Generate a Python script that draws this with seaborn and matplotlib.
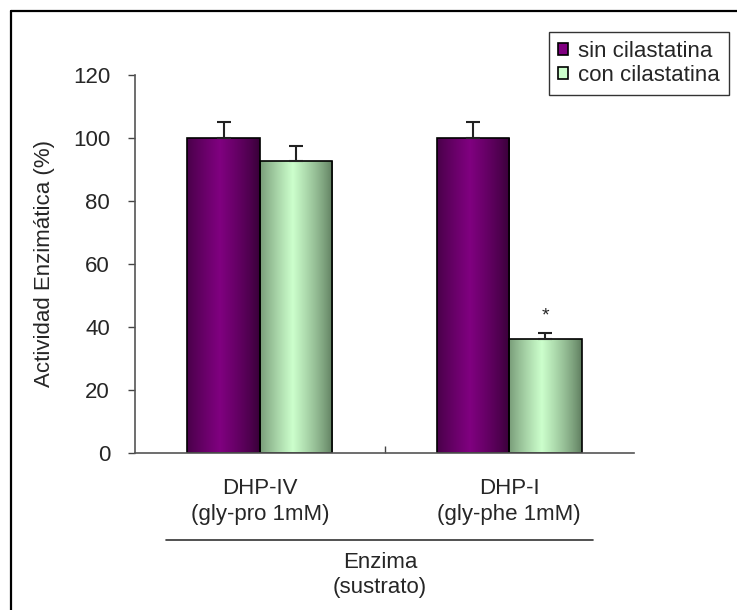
import numpy as np
import pandas as pd
import matplotlib
matplotlib.use("Agg")
import matplotlib.pyplot as plt
from matplotlib.lines import Line2D
from matplotlib.patches import Patch
from matplotlib.colors import to_rgb
import seaborn as sns

# Data
enzimas = ["DHP-IV\n(gly-pro 1mM)", "DHP-I\n(gly-phe 1mM)"]
condiciones = ["sin cilastatina", "con cilastatina"]
sin_cil = [100.0, 100.0]
con_cil = [92.7, 36.1]
sin_cil_err = [5.0, 5.0]
con_cil_err = [4.8, 1.9]
y_ticks = [0, 20, 40, 60, 80, 100, 120]

df = pd.DataFrame({
    "enzima": enzimas * 2,
    "condicion": [condiciones[0]] * 2 + [condiciones[1]] * 2,
    "actividad": sin_cil + con_cil,
    "error": sin_cil_err + con_cil_err,
})

sns.set_style("white")
plt.rcParams["font.family"] = ["Liberation Sans", "DejaVu Sans"]

palette = {"sin cilastatina": "#800080", "con cilastatina": "#ccffcc"}
dark_edge = {"sin cilastatina": "#360036", "con cilastatina": "#5c7a5c"}

FS = 16
W, H = 737, 610

fig = plt.figure(figsize=(W / 100, H / 100), dpi=100)
ax = fig.add_axes([0.1832, 0.2574, 0.6771, 0.6197])

sns.barplot(data=df, x="enzima", y="actividad", hue="condicion",
            hue_order=condiciones, order=enzimas, palette=palette,
            width=0.58, gap=0, errorbar=None, edgecolor="black",
            linewidth=1.2, legend=False, ax=ax)

# Shaded (cylinder-like) fill for each bar, clipped to the bar shape
bars = [p for p in ax.patches if p.get_height() > 0]
hue_per_bar = [c for c in condiciones for _ in enzimas]
t = np.linspace(0, 1, 256)
profile = np.clip(1 - np.abs(t - 0.45) / 0.55, 0, 1) ** 0.8
for bar, cond in zip(bars, hue_per_bar):
    bright = np.array(to_rgb(palette[cond]))
    dark = np.array(to_rgb(dark_edge[cond]))
    grad = dark[None, :] + (bright - dark)[None, :] * profile[:, None]
    img = grad[None, :, :]
    x0, w, h = bar.get_x(), bar.get_width(), bar.get_height()
    im = ax.imshow(img, extent=[x0, x0 + w, 0, h], aspect="auto",
                   zorder=bar.get_zorder() - 0.1, interpolation="bilinear")
    im.set_clip_path(bar)
    bar.set_facecolor("none")

# Upper error bars
values = sin_cil + con_cil
errors = sin_cil_err + con_cil_err
for bar, v, e in zip(bars, values, errors):
    xc = bar.get_x() + bar.get_width() / 2
    ax.errorbar([xc], [v], yerr=[[0], [e]], fmt="none", ecolor="#222222",
                elinewidth=1.5, capsize=5, capthick=1.5, zorder=5)

# Significance mark over DHP-I con cilastatina
star_bar = bars[3]
ax.text(star_bar.get_x() + star_bar.get_width() / 2, con_cil[1] + 7.5, "*",
        ha="center", va="center", fontsize=14)

ax.set_xlim(-0.5, 1.5)
ax.set_ylim(0, 120)
ax.set_yticks(y_ticks)
ax.set_xticks([0.5])
ax.set_xticklabels([])
ax.tick_params(axis="y", labelsize=FS, length=5, width=1, color="#444444",
               direction="out", left=True, pad=13)
ax.tick_params(axis="x", length=5, width=1, color="#444444", direction="in",
               bottom=True)
for side in ["top", "right"]:
    ax.spines[side].set_visible(False)
for side in ["left", "bottom"]:
    ax.spines[side].set_color("#555555")
    ax.spines[side].set_linewidth(1.2)
ax.set_xlabel("")
ax.set_ylabel("Actividad Enzimática (%)", fontsize=FS)
ax.yaxis.set_label_coords(-(135 - 55) / (0.6771 * W), 0.5)

# Category labels under the axis
for i, lab in enumerate(enzimas):
    ax.text(i, -8.0, lab, ha="center", va="top", fontsize=FS,
            linespacing=1.3, clip_on=False)

# Group line and axis caption
fig.add_artist(Line2D([166 / W, 593 / W], [1 - 540 / H] * 2,
                      color="#333333", linewidth=1.2))
fig.text(380 / W, 1 - 552 / H, "Enzima\n(sustrato)", ha="center",
         va="top", fontsize=FS, linespacing=1.25)

# Legend
handles = [Patch(facecolor=palette[c], edgecolor="black", linewidth=1.2)
           for c in condiciones]
leg = fig.legend(handles, condiciones, loc="upper right",
                 bbox_to_anchor=(729 / W, 1 - 32 / H), fontsize=FS,
                 frameon=True, fancybox=False, handlelength=0.45,
                 handleheight=0.45, handletextpad=0.45, borderpad=0.4,
                 labelspacing=0.15, borderaxespad=0)
leg.get_frame().set_edgecolor("black")
leg.get_frame().set_linewidth(1.0)

# Outer frame lines (left and top)
fig.add_artist(Line2D([10.5 / W, 10.5 / W], [0, 1 - 10.5 / H],
                      color="black", linewidth=1.6))
fig.add_artist(Line2D([10.5 / W, 1], [1 - 10.5 / H] * 2,
                      color="black", linewidth=1.6))

fig.savefig("out.png", dpi=100)
